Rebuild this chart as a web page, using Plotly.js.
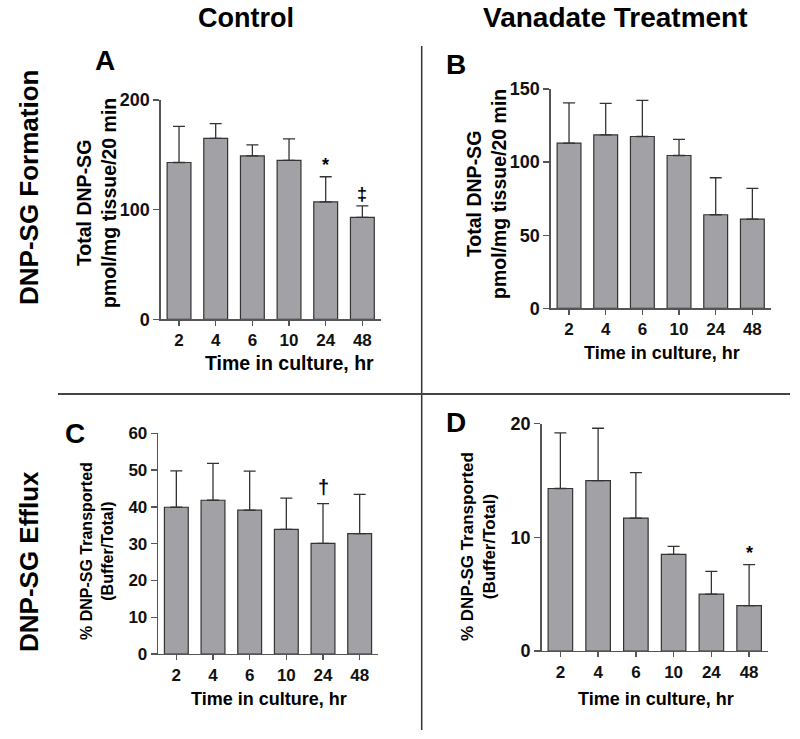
<!DOCTYPE html>
<html>
<head>
<meta charset="utf-8">
<script src="https://cdn.plot.ly/plotly-3.0.1.min.js"></script>
<style>html,body{margin:0;padding:0;background:#fff;}#chart{width:800px;height:739px;}</style>
</head>
<body>
<div id="chart"></div>
<script>
// ---- data ----
const hours = ['2', '4', '6', '10', '24', '48'];

// A: Control, DNP-SG formation (pmol/mg tissue/20 min)
const formCtrlMean = [143, 165, 149, 145, 107, 93];
const formCtrlErr  = [33, 13.5, 10, 19.5, 23, 10.5];
const formCtrlSig  = ['', '', '', '', '*', '‡'];

// B: Vanadate, DNP-SG formation
const formVanMean = [113, 118.6, 117.5, 104.5, 64, 61];
const formVanErr  = [27.5, 21.6, 24.7, 11.1, 25.3, 21];
const formVanSig  = ['', '', '', '', '', ''];

// C: Control, % DNP-SG transported
const effCtrlMean = [39.9, 41.8, 39.1, 33.9, 30.1, 32.7];
const effCtrlErr  = [9.9, 10, 10.6, 8.5, 10.8, 10.7];
const effCtrlSig  = ['', '', '', '', '†', ''];

// D: Vanadate, % DNP-SG transported
const effVanMean = [14.3, 15.0, 11.7, 8.5, 5.0, 4.0];
const effVanErr  = [4.9, 4.6, 4.0, 0.7, 2.0, 3.6];
const effVanSig  = ['', '', '', '', '', '*'];

// ---- helpers ----
const W = 800, H = 739;
const px = x => x / W;
const py = y => 1 - y / H;
const FONT = 'Liberation Sans, Arial, Helvetica, sans-serif';
const AXC = '#555';

function barTrace(mean, err, xa, ya) {
  return {
    type: 'bar', x: hours, y: mean, xaxis: xa, yaxis: ya, width: 0.65,
    marker: {color: '#a2a2a6', line: {color: '#333', width: 1.2}},
    error_y: {type: 'data', array: err, arrayminus: err.map(() => 0), symmetric: false,
              visible: true, color: '#333', thickness: 1.3, width: 6},
    hoverinfo: 'skip'
  };
}

const traces = [
  barTrace(formCtrlMean, formCtrlErr, 'x', 'y'),
  barTrace(formVanMean, formVanErr, 'x2', 'y2'),
  barTrace(effCtrlMean, effCtrlErr, 'x3', 'y3'),
  barTrace(effVanMean, effVanErr, 'x4', 'y4')
];

function xAxis(domain, anchor, size) {
  return {domain: domain, anchor: anchor, type: 'category', range: [-0.5, 5.5],
    showline: true, linecolor: AXC, linewidth: 1.3, ticks: 'outside', ticklen: 5,
    tickwidth: 1.3, tickcolor: AXC, showgrid: false, zeroline: false, fixedrange: true,
    tickfont: {family: FONT, size: size, color: '#111', weight: 'bold'}};
}
function yAxis(domain, anchor, range, tickvals, size) {
  return {domain: domain, anchor: anchor, range: range, tickvals: tickvals,
    showline: true, linecolor: AXC, linewidth: 1.3, ticks: 'outside', ticklen: 6,
    tickwidth: 1.3, tickcolor: AXC, showgrid: false, zeroline: false, fixedrange: true,
    tickfont: {family: FONT, size: size, color: '#111', weight: 'bold'}};
}

const annotations = [];
function txt(text, x, y, size, angle) {
  annotations.push({text: text, xref: 'paper', yref: 'paper', x: px(x), y: py(y),
    xanchor: 'center', yanchor: 'middle', showarrow: false, textangle: angle || 0,
    font: {family: FONT, size: size, color: '#000', weight: 'bold'}});
}
function sig(marks, mean, err, xa, ya, size, shift) {
  marks.forEach((m, i) => {
    if (!m) return;
    annotations.push({text: m, x: i, y: mean[i] + err[i], xref: xa, yref: ya,
      xanchor: 'center', yanchor: 'bottom', showarrow: false, yshift: shift,
      font: {family: FONT, size: size, color: '#000', weight: 'bold'}});
  });
}

// column & row headers
txt('Control', 246, 18, 27);
txt('Vanadate Treatment', 615, 18, 28);
txt('DNP-SG Formation', 29, 188, 26, -90);
txt('DNP-SG Efflux', 29, 562, 26, -90);
// panel letters
txt('A', 105, 60, 28);
txt('B', 456, 64, 28);
txt('C', 75, 433, 28);
txt('D', 456, 422, 28);
// axis titles
txt('Total DNP-SG<br>pmol/mg tissue/20 min', 96, 203, 19.5, -90);
txt('Total DNP-SG<br>pmol/mg tissue/20 min', 486, 194, 19.5, -90);
txt('% DNP-SG Transported<br>(Buffer/Total)', 97, 551, 16, -90);
txt('% DNP-SG Transported<br>(Buffer/Total)', 478, 547, 17, -90);
txt('Time in culture, hr', 289, 363, 19.5);
txt('Time in culture, hr', 662, 353, 18);
txt('Time in culture, hr', 269, 699, 18);
txt('Time in culture, hr', 656, 699, 18);
// significance marks
sig(formCtrlSig, formCtrlMean, formCtrlErr, 'x', 'y', 18, 0);
sig(formVanSig, formVanMean, formVanErr, 'x2', 'y2', 18, 0);
sig(effCtrlSig, effCtrlMean, effCtrlErr, 'x3', 'y3', 20, 4);
sig(effVanSig, effVanMean, effVanErr, 'x4', 'y4', 18, 0);

const layout = {
  width: W, height: H, margin: {l: 0, r: 0, t: 0, b: 0},
  paper_bgcolor: '#fff', plot_bgcolor: 'rgba(0,0,0,0)', showlegend: false,
  bargap: 0.35,
  xaxis:  xAxis([px(160.7), px(380.7)], 'y', 17),
  yaxis:  yAxis([py(319.3), py(100)], 'x', [0, 200], [0, 100, 200], 18),
  xaxis2: xAxis([px(550.7), px(770.7)], 'y2', 17),
  yaxis2: yAxis([py(308.3), py(89)], 'x2', [0, 150], [0, 50, 100, 150], 18),
  xaxis3: xAxis([px(158), px(378)], 'y3', 17),
  yaxis3: yAxis([py(654), py(433.3)], 'x3', [0, 60], [0, 10, 20, 30, 40, 50, 60], 17),
  xaxis4: xAxis([px(541.5), px(768)], 'y4', 17),
  yaxis4: yAxis([py(651), py(423.7)], 'x4', [0, 20], [0, 10, 20], 18),
  annotations: annotations,
  shapes: [
    {type: 'line', xref: 'paper', yref: 'paper', x0: px(421.7), x1: px(421.7), y0: py(46), y1: py(730),
     line: {color: '#333', width: 1.5}},
    {type: 'line', xref: 'paper', yref: 'paper', x0: px(58), x1: px(790), y0: py(394), y1: py(394),
     line: {color: '#444', width: 2}}
  ]
};

Plotly.newPlot('chart', traces, layout, {displayModeBar: false, staticPlot: true});
</script>
</body>
</html>
